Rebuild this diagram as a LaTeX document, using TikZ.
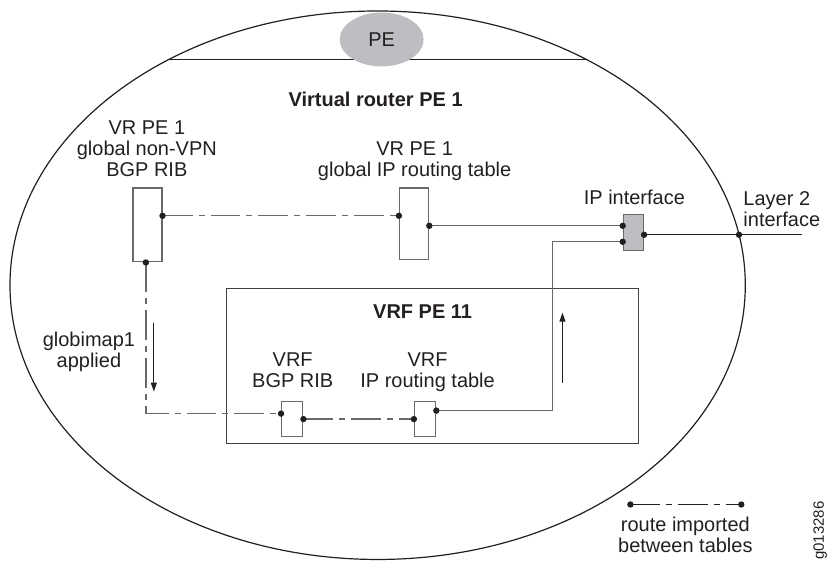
\documentclass[tikz,border=0pt]{standalone}
\usepackage{fontspec}
\setmainfont{Liberation Sans}
\usetikzlibrary{arrows.meta,shapes.geometric}
\definecolor{ink}{RGB}{35,31,32}
\definecolor{wire}{RGB}{105,105,105}
\definecolor{shade}{RGB}{190,190,194}

\begin{document}
\begin{tikzpicture}[x=1pt, y=-1pt, line join=miter,
  lbl/.style={text=ink, inner sep=0pt, align=center, anchor=base,
    font=\fontsize{20}{21}\selectfont},
  tbl/.style={draw=wire, line width=1.4pt, fill=white, inner sep=0pt},
  link/.style={draw=wire, line width=1.4pt},
  imported/.style={link, dash pattern=on 30pt off 6pt on 6pt off 6pt},
  flow/.style={draw=ink, line width=1pt, -{Triangle[width=6pt,length=9pt]}}]

  % ════ PE 外框：大椭圆 + 顶部横带 ════
  \begin{scope}
    \clip (378,285.5) ellipse [x radius=368pt, y radius=274.5pt];
    \draw[ink, line width=1pt] (0,59.3) -- (827,59.3);
  \end{scope}
  \node[ellipse, fill=shade, minimum width=84pt, minimum height=54pt, inner sep=0pt,
        text=ink, font=\fontsize{20}{21}\selectfont] (pe) at (382,39.5) {PE};
  \draw[ink, line width=1.2pt] (378,285.5) ellipse [x radius=368pt, y radius=274.5pt];

  % ════ VRF PE 11 框 ════
  \node[draw=ink!85, line width=1.2pt, minimum width=412pt, minimum height=155pt,
        inner sep=0pt] (vrf) at (433,366.5) {};

  % ════ 路由表（小方框）════
  \node[tbl, minimum width=29pt, minimum height=74pt] (nonvpn) at (147.5,225) {};
  \node[tbl, minimum width=29pt, minimum height=72pt] (globrt) at (414.5,224) {};
  \node[tbl, fill=shade, minimum width=20pt, minimum height=36pt] (ipif) at (634,233) {};
  \node[tbl, minimum width=21pt, minimum height=35pt] (vrfbgp) at (292.5,419.5) {};
  \node[tbl, minimum width=21pt, minimum height=35pt] (vrfip) at (425.5,419.5) {};

  % 端口点
  \coordinate (nonvpn-r) at ([yshift=9pt]nonvpn.east);
  \coordinate (nonvpn-b) at ([xshift=-1.5pt]nonvpn.south);
  \coordinate (globrt-l) at ([yshift=8pt]globrt.west);
  \coordinate (globrt-r) at ([yshift=-2pt]globrt.east);
  \coordinate (ipif-l1)  at ([yshift=7pt]ipif.west);
  \coordinate (ipif-l2)  at ([yshift=-9pt]ipif.west);
  \coordinate (ipif-r)   at ([yshift=-2pt]ipif.east);
  \coordinate (vrfbgp-l) at ([yshift=5.5pt]vrfbgp.west);
  \coordinate (vrfbgp-r) at (vrfbgp.east);
  \coordinate (vrfip-l)  at (vrfip.west);
  \coordinate (vrfip-r)  at ([yshift=8.5pt]vrfip.east);
  \coordinate (riser)    at (553,242);
  \coordinate (l2)       at (739.7,235);
  \coordinate (l2end)    at (803,235);

  % ════ 连线 ════
  \draw[imported] (nonvpn-r) -- (globrt-l);
  \draw[link] (globrt-r) -- (ipif-l1);
  \draw[imported] (nonvpn-b) |- (vrfbgp-l);
  \draw[imported] (vrfbgp-r) -- (vrfip-l);
  \draw[link] (vrfip-r) -| (riser) -- (ipif-l2);
  \draw[ink, line width=1.2pt] (ipif-r) -- (l2) -- (l2end);

  % 方向箭头
  \coordinate (down-a) at (154,323);  \coordinate (down-b) at (154,392);
  \coordinate (up-a)   at (563,383);  \coordinate (up-b)   at (563,313);
  \draw[flow] (down-a) -- (down-b);
  \draw[flow] (up-a) -- (up-b);

  % ════ 图例 ════
  \coordinate (key-a) at (631,505);
  \coordinate (key-b) at (742,505);
  \draw[imported, draw=ink] (key-a) -- (key-b);

  \foreach \p in {nonvpn-r,nonvpn-b,globrt-l,globrt-r,ipif-l1,ipif-l2,ipif-r,
                  vrfbgp-l,vrfbgp-r,vrfip-l,vrfip-r,l2,key-a,key-b}
    \fill[ink] (\p) circle [radius=3.2pt];

  % ════ 标签（多行：锚点=末行基线）════
  \node[lbl, font=\fontsize{20}{21}\selectfont\bfseries] (vrtitle) at (376,107) {Virtual router PE 1};
  \node[lbl] (nonvpn-t) at (147,177) {VR PE 1\\global non-VPN\\BGP RIB};
  \node[lbl] (globrt-t) at (415,177) {VR PE 1\\global IP routing table};
  \node[lbl] (ipif-t) at (635,205) {IP interface};
  \node[lbl, anchor=base west, align=left] (l2-t) at (744,227) {Layer 2\\interface};
  \node[lbl, font=\fontsize{20}{21}\selectfont\bfseries] (vrf-t) at (423,319) {VRF PE 11};
  \node[lbl] (vrfbgp-t) at (293,388) {VRF\\BGP RIB};
  \node[lbl] (vrfip-t) at (428,388) {VRF\\IP routing table};
  \node[lbl] (map-t) at (89,368) {globimap1\\applied};
  \node[lbl] (key-t) at (686,553) {route imported\\between tables};
  \node[lbl, anchor=center, rotate=90, font=\fontsize{15}{16}\selectfont] (figid) at (821,531) {g013286};

  % 钉死画布
  \path[use as bounding box] (0,0) rectangle (827,561);
\end{tikzpicture}
\end{document}
